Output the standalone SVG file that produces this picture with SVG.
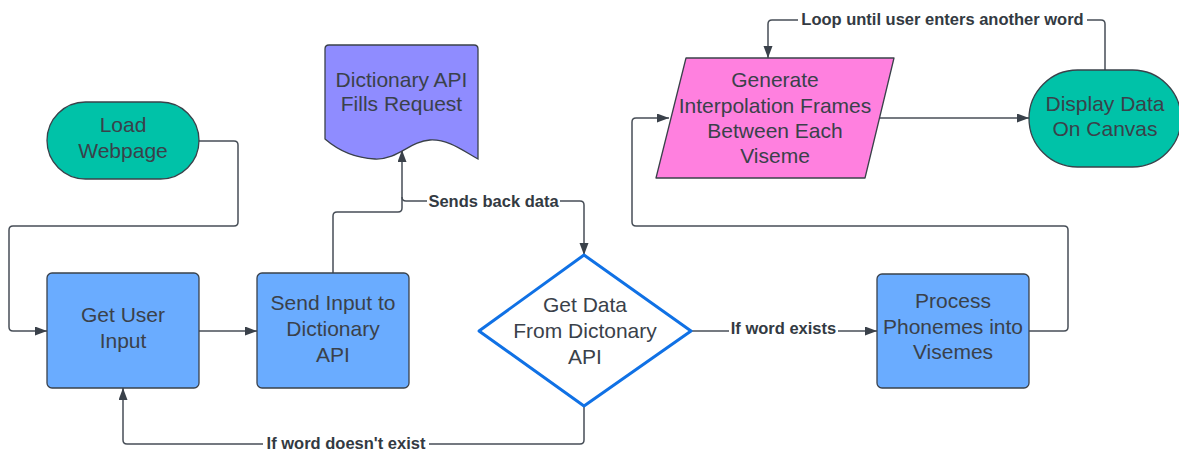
<svg xmlns="http://www.w3.org/2000/svg" width="1179" height="452" viewBox="0 0 1179 452">
<defs>
<marker id="arr" markerUnits="userSpaceOnUse" markerWidth="13" markerHeight="10" refX="12" refY="4.5" orient="auto">
<path d="M0,0 L12,4.5 L0,9 Z" fill="#3a414a"/>
</marker>
<style>
.node{stroke:#3a414a;stroke-width:1.3}
.blue{fill:#6aacff}
.teal{fill:#00c2a8}
.t{font-family:"Liberation Sans",Arial,sans-serif;font-size:21px;fill:#3a414a;text-anchor:middle}
.lbl{font-family:"Liberation Sans",Arial,sans-serif;font-size:16.5px;font-weight:bold;fill:#333a42;text-anchor:middle}
.c{fill:none;stroke:#474e57;stroke-width:1.5}
.bg{fill:#ffffff}
</style>
</defs>
<rect width="1179" height="452" fill="#ffffff"/>
<g id="connectors">
<path class="c" d="M199,141 H234 Q238,141 238,145 V222 Q238,226 234,226 H13 Q9,226 9,230 V327 Q9,331 13,331 H47" marker-end="url(#arr)"/>
<path class="c" d="M199,331 H257" marker-end="url(#arr)"/>
<path class="c" d="M333,273 V216 Q333,212 337,212 H398 Q402,212 402,208 V150" marker-end="url(#arr)"/>
<path class="c" d="M402,197 Q402,201 406,201 H580 Q584,201 584,205 V255" marker-end="url(#arr)"/>
<path class="c" d="M691,331 H877" marker-end="url(#arr)"/>
<path class="c" d="M584,406 V440 Q584,444 580,444 H127 Q123,444 123,440 V388" marker-end="url(#arr)"/>
<path class="c" d="M1029,331 H1064 Q1068,331 1068,327 V230 Q1068,226 1064,226 H636 Q632,226 632,222 V122 Q632,118 636,118 H669" marker-end="url(#arr)"/>
<path class="c" d="M880,118 H1029" marker-end="url(#arr)"/>
<path class="c" d="M1105,70 V24 Q1105,20 1101,20 H772 Q768,20 768,24 V58" marker-end="url(#arr)"/>
<rect class="bg" x="427" y="191" width="133" height="20"/>
<text class="lbl" x="493.5" y="207">Sends back data</text>
<rect class="bg" x="729" y="320" width="109" height="20"/>
<text class="lbl" x="783.5" y="334">If word exists</text>
<rect class="bg" x="263" y="434" width="166" height="20"/>
<text class="lbl" x="346" y="449">If word doesn't exist</text>
<rect class="bg" x="798" y="10" width="289" height="20"/>
<text class="lbl" x="942.5" y="25">Loop until user enters another word</text>
</g>
<g id="load-webpage">
<rect class="node teal" x="47" y="102" width="152" height="77" rx="38.5"/>
<text class="t" x="123" y="132">Load</text>
<text class="t" x="123" y="158">Webpage</text>
</g>
<g id="get-user-input">
<rect class="node blue" x="47" y="273" width="152" height="115" rx="5"/>
<text class="t" x="123" y="322">Get User</text>
<text class="t" x="123" y="348">Input</text>
</g>
<g id="send-input">
<rect class="node blue" x="257" y="273" width="152" height="115" rx="5"/>
<text class="t" x="333" y="310">Send Input to</text>
<text class="t" x="333" y="336">Dictionary</text>
<text class="t" x="333" y="362">API</text>
</g>
<g id="dictionary-api">
<path class="node" fill="#8f8cff" d="M329,45 H474 Q478,45 478,49 V159 C462,150 448,139 430,140 C410,141 398,160 375,159 C355,158 340,152 325,139 V49 Q325,45 329,45 Z"/>
<text class="t" x="401.5" y="87">Dictionary API</text>
<text class="t" x="401.5" y="111">Fills Request</text>
</g>
<g id="get-data">
<path fill="#ffffff" stroke="#1071e5" stroke-width="3" stroke-linejoin="round" d="M584,255 L691,331 L584,406 L479,331 Z"/>
<text class="t" x="585" y="312">Get Data</text>
<text class="t" x="585" y="338">From Dictonary</text>
<text class="t" x="585" y="364">API</text>
</g>
<g id="process-phonemes">
<rect class="node blue" x="877" y="274" width="152" height="114" rx="5"/>
<text class="t" x="953" y="308">Process</text>
<text class="t" x="953" y="334">Phonemes into</text>
<text class="t" x="953" y="359">Visemes</text>
</g>
<g id="generate-frames">
<path class="node" fill="#ff80df" stroke-linejoin="round" d="M686,58 H894 L865,178 H656 Z"/>
<text class="t" x="775" y="87">Generate</text>
<text class="t" x="775" y="113">Interpolation Frames</text>
<text class="t" x="775" y="138">Between Each</text>
<text class="t" x="775" y="163">Viseme</text>
</g>
<g id="display-data">
<rect class="node teal" x="1029" y="70" width="152" height="97" rx="48.5"/>
<text class="t" x="1105" y="111">Display Data</text>
<text class="t" x="1105" y="136">On Canvas</text>
</g>
</svg>
